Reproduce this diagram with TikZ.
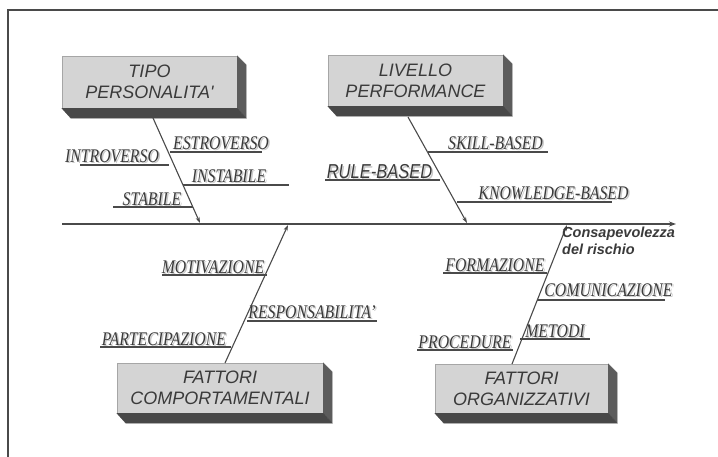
\documentclass[tikz,border=0pt]{standalone}
\usepackage{fontspec}
\setmainfont{Liberation Serif}
\newfontfamily\sansfam{Liberation Sans}
\usetikzlibrary{arrows.meta}
\definecolor{txt}{HTML}{3A3A3A}
\definecolor{shd}{HTML}{C8C8C8}
\definecolor{facefill}{HTML}{D4D4D4}
\definecolor{sidefill}{HTML}{5C5C5C}
\definecolor{botfill}{HTML}{484848}
\definecolor{linecol}{HTML}{4A4A4A}
\tikzset{
  frameline/.style={draw=linecol, line width=1.3pt},
  facebox/.style={fill=facefill, draw=gray!70, line width=0.4pt, inner sep=0pt, align=center,
    text=txt, font=\sansfam\itshape\fontsize{18}{21}\selectfont},
  sideface/.style={fill=sidefill, draw=sidefill, line width=0.3pt},
  botface/.style={fill=botfill, draw=botfill, line width=0.3pt},
  bone/.style={draw=linecol, line width=1.1pt, -{Stealth[length=6pt,width=4pt]}},
  spine/.style={draw=linecol, line width=1.1pt, -{Stealth[length=7pt,width=5pt]}},
  uline/.style={draw=linecol, line width=1.2pt},
  lab/.style={inner sep=0pt, text=txt, font=\itshape\fontsize{15.8}{18}\selectfont},
  labshadow/.style={inner sep=0pt, text=shd, font=\itshape\fontsize{15.8}{18}\selectfont},
  slab/.style={inner sep=0pt, text=txt, font=\sansfam\itshape\fontsize{16.5}{18}\selectfont},
  slabshadow/.style={inner sep=0pt, text=shd, font=\sansfam\itshape\fontsize{16.5}{18}\selectfont},
}
\newcommand\tdbox[5]{%
  \node[facebox, minimum width=#3, minimum height=#4] (#1) at (#2) {#5};
  \fill[sideface] (#1.north east) -- ++(9,9) -- ([shift={(9,10)}]#1.south east) -- (#1.south east) -- cycle;
  \fill[botface] (#1.south west) -- (#1.south east) -- ([shift={(9,10)}]#1.south east) -- ([shift={(9,10)}]#1.south west) -- cycle;
}
\newcommand\slabel[4]{% name, style, position, text
  \node[#2shadow] at ([shift={(1.5,1.5)}]#3) {\scalebox{1}[1.22]{#4}};
  \node[#2] (#1) at (#3) {\scalebox{1}[1.22]{#4}};
}
\begin{document}
\begin{tikzpicture}[x=1pt,y=-1pt]
\useasboundingbox (0,0) rectangle (718,457);
\fill[white] (0,0) rectangle (718,457);
% frame
\draw[frameline] (8,470) -- (8,10) -- (730,10);

% boxes
\tdbox{b1}{149.5,82}{175}{52}{TIPO\\PERSONALITA'}
\tdbox{b2}{415.5,80.5}{175}{51}{LIVELLO\\PERFORMANCE}
\tdbox{b3}{220,388}{206}{50}{FATTORI\\COMPORTAMENTALI}
\tdbox{b4}{521.5,388.5}{173}{49}{FATTORI\\ORGANIZZATIVI}

% spine
\coordinate (s0) at (62,224);
\coordinate (s1) at (676,224);
\draw[spine] (s0) -- (s1);

% bone endpoints
\coordinate (t1) at (153,118);
\coordinate (h1) at (200,223);
\coordinate (t2) at (408,117);
\coordinate (h2) at (467,223);
\coordinate (t3) at (225,363);
\coordinate (h3) at (288,225);
\coordinate (t4) at (512,364);
\coordinate (h4) at (567,225);
\draw[bone] (t1) -- (h1);
\draw[bone] (t2) -- (h2);
\draw[bone] (t3) -- (h3);
\draw[bone] (t4) -- (h4);

% bone 1 labels
\slabel{estro}{lab}{221,143}{ESTROVERSO}
\draw[uline] (170,152) -- (262,152);
\slabel{intro}{lab}{112,156}{INTROVERSO}
\draw[uline] (80,165) -- (169,165);
\slabel{instab}{lab}{229,176}{INSTABILE}
\draw[uline] (183,185) -- (289,185);
\slabel{stab}{lab}{152,199}{STABILE}
\draw[uline] (113,207) -- (193,207);

% bone 2 labels
\slabel{skill}{lab}{495.5,143}{SKILL-BASED}
\draw[uline] (428,152) -- (548,152);
\slabel{rule}{slab}{379.5,172}{RULE-BASED}
\draw[uline] (325,180) -- (440,180);
\slabel{know}{lab}{553.5,193}{KNOWLEDGE-BASED}
\draw[uline] (457,202) -- (612,202);

% bone 3 labels
\slabel{motiv}{lab}{213,267}{MOTIVAZIONE}
\draw[uline] (162,275) -- (267,275);
\slabel{resp}{lab}{312,312}{RESPONSABILITA'}
\draw[uline] (247,321) -- (377,321);
\slabel{part}{lab}{164,339}{PARTECIPAZIONE}
\draw[uline] (100,347) -- (231,347);

% bone 4 labels
\slabel{form}{lab}{495,265}{FORMAZIONE}
\draw[uline] (443,273) -- (547,273);
\slabel{comu}{lab}{608.5,290}{COMUNICAZIONE}
\draw[uline] (537,300) -- (665,300);
\slabel{meto}{lab}{555,331}{METODI}
\draw[uline] (520,339) -- (590,339);
\slabel{proc}{lab}{465,342}{PROCEDURE}
\draw[uline] (417,350) -- (513,350);

% effect
\node[anchor=north west, inner sep=0pt, align=left, text=txt,
  font=\sansfam\bfseries\itshape\fontsize{14.5}{17}\selectfont] (eff) at (562,227)
  {Consapevolezza\\del rischio};
\end{tikzpicture}
\end{document}
